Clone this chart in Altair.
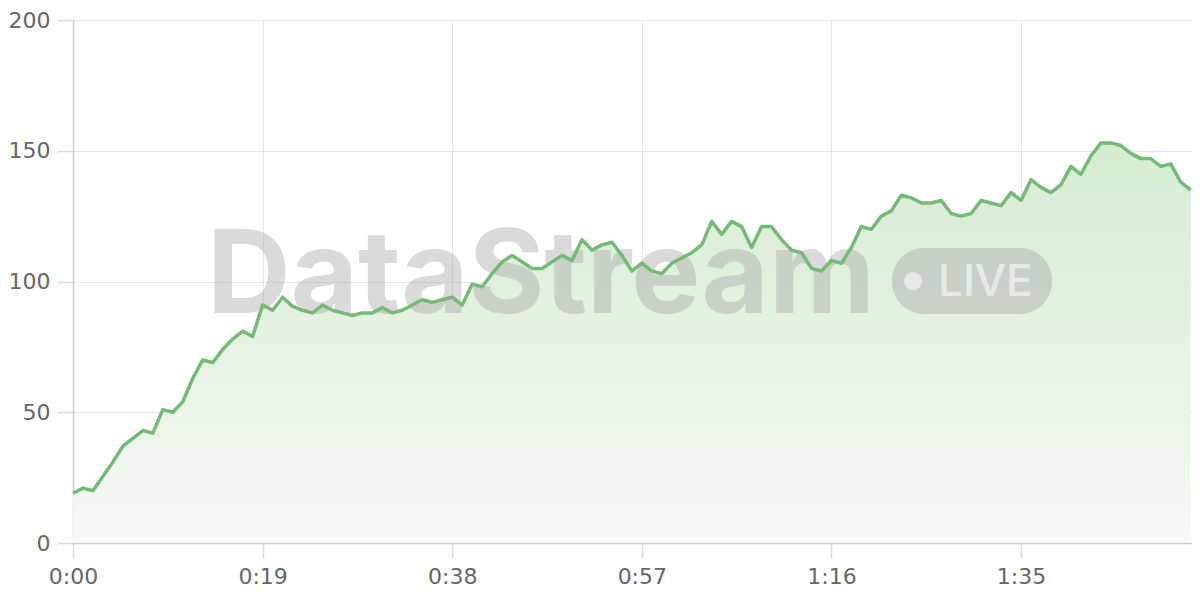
import altair as alt
import pandas as pd

seconds = list(range(113))
values = [19, 21, 20, 25.5, 31, 37, 40, 43, 42, 51,
          50, 54, 63, 70, 69, 74, 78, 81, 79, 91,
          89, 94, 90.5, 89, 88, 91, 89, 88, 87, 88,
          88, 90, 88, 89, 91, 93, 92, 93, 94, 91,
          99, 98, 103, 107.5, 110, 107.5, 105, 105, 107.5, 110,
          108, 116, 112, 114, 115, 110, 104, 107, 104, 103,
          107, 109, 111, 114, 123, 118, 123, 121, 113, 121,
          121, 116, 112, 111, 105, 104, 108, 107, 113, 121,
          120, 125, 127, 133, 132, 130, 130, 131, 126, 125,
          126, 131, 130, 129, 134, 131, 139, 136, 134, 137,
          144, 141, 148, 153, 153, 152, 149, 147, 147, 144,
          145, 138, 135]
x_ticks = [0, 19, 38, 57, 76, 95]
y_ticks = [0, 50, 100, 150, 200]

df = pd.DataFrame({"t": seconds, "v": values})

W, H = 1119, 523
FONT = "Inter"
AXFONT = "DejaVu Sans"

x_enc = alt.X("t:Q", scale=alt.Scale(domain=[0, 112.13], nice=False),
              axis=alt.Axis(values=x_ticks,
                            labelExpr="floor(datum.value/60) + ':' + (datum.value%60 < 10 ? '0' : '') + (datum.value%60)",
                            title=None, grid=True, gridColor="#e6e6e6", gridWidth=1,
                            domainColor="#cccccc", domainWidth=1.5,
                            tickColor="#dddddd", tickSize=15, tickWidth=1.5,
                            labelFontSize=22, labelColor="#666666", labelFont=AXFONT,
                            labelPadding=8, labelFlush=False))
y_enc = alt.Y("v:Q", scale=alt.Scale(domain=[0, 200], nice=False),
              axis=alt.Axis(values=y_ticks, title=None, grid=True,
                            gridColor="#e6e6e6", gridWidth=1,
                            domainColor="#cccccc", domainWidth=1.5,
                            tickColor="#dddddd", tickSize=16, tickWidth=1.5,
                            labelFontSize=22, labelColor="#666666", labelFont=AXFONT,
                            labelPadding=7))

area = alt.Chart(df).mark_area(
    color=alt.Gradient(gradient="linear",
                       stops=[alt.GradientStop(color="#d6ebd3", offset=0),
                              alt.GradientStop(color="#f6faf5", offset=1)],
                       x1=1, x2=1, y1=0, y2=1),
    line=False
).encode(x=x_enc, y=y_enc)

line = alt.Chart(df).mark_line(color="#75ba75", strokeWidth=3.5,
                               strokeJoin="round").encode(x="t:Q", y="v:Q")

wm_df = pd.DataFrame({"label": ["DataStream"]})
wm = alt.Chart(wm_df).mark_text(
    font=FONT, fontWeight="bold", fontSize=116, align="left", baseline="alphabetic",
    color="#a8a8a8", opacity=0.42
).encode(x=alt.value(207 - 73), y=alt.value(313 - 20), text="label:N")

badge = alt.Chart(wm_df).mark_rect(
    color="#a8a8a8", opacity=0.42, cornerRadius=32
).encode(x=alt.value(892 - 73), x2=alt.value(1052 - 73),
         y=alt.value(248 - 20), y2=alt.value(314 - 20))

dot = alt.Chart(wm_df).mark_point(
    filled=True, shape="circle", size=330, color="#ffffff", opacity=0.55
).encode(x=alt.value(913 - 73), y=alt.value(281 - 20))

live_df = pd.DataFrame({"label": ["LIVE"]})
live = alt.Chart(live_df).mark_text(
    font=FONT, fontWeight=500, fontSize=44, align="left", baseline="alphabetic",
    color="#ffffff", opacity=0.55
).encode(x=alt.value(938 - 73), y=alt.value(296 - 20), text="label:N")

chart = alt.layer(area, wm, badge, dot, live, line).properties(
    width=W, height=H,
    autosize=alt.AutoSizeParams(type="none"),
    padding={"left": 65, "top": 12, "right": 0, "bottom": 45}
).configure_view(stroke=None).configure(background="#ffffff")

chart.save("out.html", embed_options={"renderer": "svg", "actions": False})
